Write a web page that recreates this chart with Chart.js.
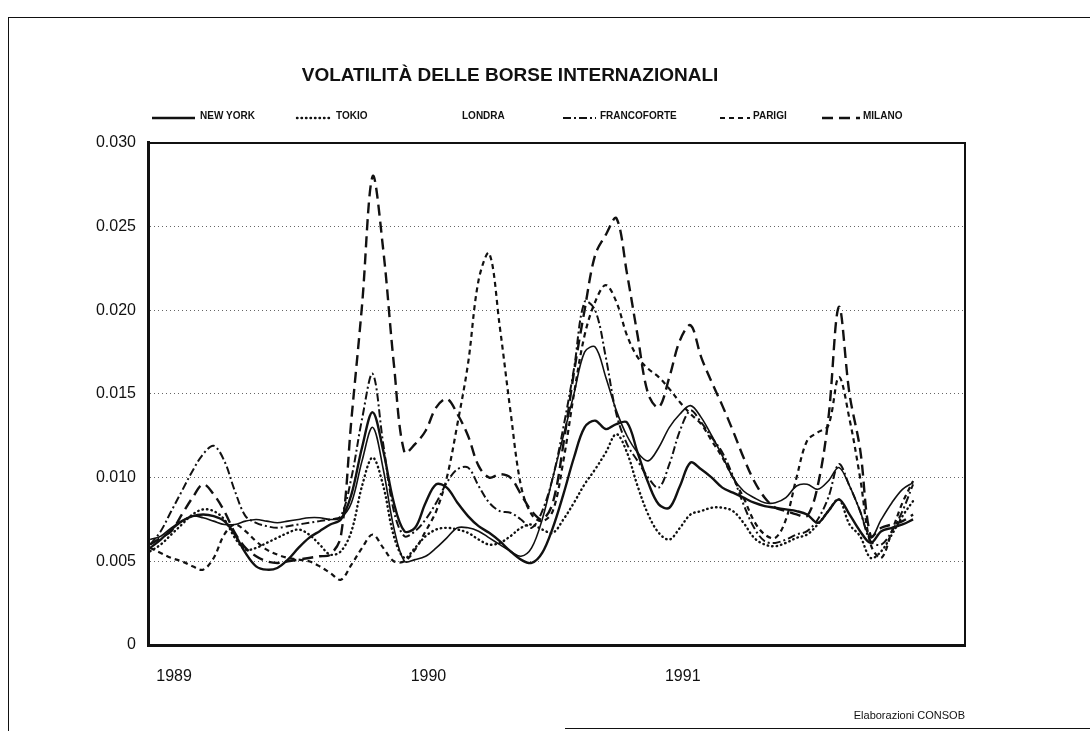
<!DOCTYPE html>
<html lang="it">
<head>
<meta charset="utf-8">
<title>Volatilità delle borse internazionali</title>
<script src="https://cdn.jsdelivr.net/npm/chart.js@4.4.1/dist/chart.umd.min.js"></script>
<style>
  html, body { margin: 0; padding: 0; background: #fff; }
  #wrap { position: relative; width: 1090px; height: 731px; overflow: hidden; }
  #frame { position: absolute; left: 8px; top: 17px; right: -4px; bottom: -4px;
           border-left: 1.5px solid #111; border-top: 1.5px solid #111; }
  #cut { position: absolute; left: 565px; right: 0; top: 728px; border-top: 1.5px solid #111; }
  canvas { position: absolute; left: 0; top: 0; }
</style>
</head>
<body>
<div id="wrap">
  <div id="frame"></div>
  <div id="cut"></div>
  <canvas id="chart" width="1090" height="731"></canvas>
</div>
<script>
// semi-monthly volatility readings, Jan 1989 - Dec 1991
const seriesNames = ['NEW YORK', 'TOKIO', 'LONDRA', 'FRANCOFORTE', 'PARIGI', 'MILANO'];
const yearLabels = ['1989', '1990', '1991'];
const yearStarts = [0, 12, 24]; // months from Jan 1989

const newYork = [
  0.0058, 0.0063, 0.0069, 0.0074, 0.0077, 0.0078, 0.0077, 0.0074, 0.0066, 0.0055,
  0.0047, 0.0045, 0.0046, 0.0051, 0.0058, 0.0064, 0.0068, 0.0072, 0.0075, 0.0090,
  0.0118, 0.0139, 0.0116, 0.0085, 0.0068, 0.0070, 0.0085, 0.0096, 0.0094, 0.0085,
  0.0077, 0.0071, 0.0067, 0.0062, 0.0056, 0.0051, 0.0049, 0.0055, 0.0070, 0.0090,
  0.0112, 0.0130, 0.0134, 0.0129, 0.0132, 0.0133, 0.0115, 0.0097, 0.0084, 0.0082,
  0.0095, 0.0109, 0.0105, 0.0100, 0.0094, 0.0091, 0.0088, 0.0085, 0.0083, 0.0082,
  0.0081, 0.0080, 0.0078, 0.0073, 0.0080, 0.0087, 0.0078, 0.0068, 0.0061, 0.0068,
  0.0070, 0.0072, 0.0075
];
const tokio = [
  0.0056, 0.0060, 0.0066, 0.0072, 0.0078, 0.0081, 0.0080, 0.0075, 0.0064, 0.0057,
  0.0058, 0.0061, 0.0064, 0.0067, 0.0069, 0.0066, 0.0060, 0.0054, 0.0056, 0.0068,
  0.0095, 0.0112, 0.0095, 0.0065, 0.0052, 0.0058, 0.0065, 0.0069, 0.0070, 0.0069,
  0.0067, 0.0063, 0.0060, 0.0061, 0.0065, 0.0070, 0.0072, 0.0069, 0.0067, 0.0075,
  0.0085, 0.0096, 0.0105, 0.0115, 0.0126, 0.0115, 0.0095, 0.0078, 0.0067, 0.0063,
  0.0070, 0.0078, 0.0080, 0.0082, 0.0082, 0.0080, 0.0073, 0.0064, 0.0060, 0.0059,
  0.0061, 0.0064, 0.0066, 0.0072, 0.0080, 0.0087, 0.0072, 0.0065, 0.0052, 0.0056,
  0.0066, 0.0077, 0.0086
];
const londra = [
  0.0063, 0.0065, 0.0070, 0.0074, 0.0077, 0.0076, 0.0074, 0.0072, 0.0072, 0.0074,
  0.0075, 0.0074, 0.0073, 0.0074, 0.0075, 0.0076, 0.0076, 0.0075, 0.0076, 0.0085,
  0.0110, 0.0130, 0.0105, 0.0070, 0.0050, 0.0051, 0.0053, 0.0058, 0.0064, 0.0070,
  0.0070, 0.0068, 0.0064, 0.0060, 0.0056, 0.0053, 0.0058, 0.0075, 0.0100, 0.0125,
  0.0150, 0.0175, 0.0178, 0.0160, 0.0140, 0.0125, 0.0115, 0.0110, 0.0118, 0.0130,
  0.0138, 0.0143, 0.0136, 0.0125, 0.0113, 0.0100, 0.0092, 0.0088, 0.0085, 0.0085,
  0.0088, 0.0095, 0.0096, 0.0093, 0.0098, 0.0106, 0.0095, 0.0080, 0.0064, 0.0075,
  0.0085, 0.0093, 0.0097
];
const francoforte = [
  0.0060, 0.0068, 0.0080, 0.0092, 0.0104, 0.0114, 0.0119, 0.0110, 0.0092, 0.0077,
  0.0073, 0.0071, 0.0070, 0.0071, 0.0072, 0.0073, 0.0074, 0.0075, 0.0077, 0.0100,
  0.0135, 0.0162, 0.0120, 0.0080, 0.0065, 0.0068, 0.0075, 0.0085, 0.0097, 0.0105,
  0.0106, 0.0095, 0.0085, 0.0080, 0.0079, 0.0075, 0.0070, 0.0080, 0.0100, 0.0130,
  0.0165, 0.0205, 0.0200, 0.0172, 0.0138, 0.0120, 0.0110, 0.0100, 0.0094, 0.0108,
  0.0128, 0.0140, 0.0133, 0.0124, 0.0115, 0.0101, 0.0084, 0.0070, 0.0062, 0.0061,
  0.0063, 0.0066, 0.0068, 0.0075, 0.0088, 0.0108, 0.0095, 0.0080, 0.0062, 0.0060,
  0.0068, 0.0080, 0.0096
];
const parigi = [
  0.0058, 0.0055, 0.0052, 0.0050, 0.0047, 0.0045, 0.0052, 0.0066, 0.0072, 0.0068,
  0.0062, 0.0057, 0.0054, 0.0052, 0.0051, 0.0050, 0.0047, 0.0043, 0.0039, 0.0048,
  0.0058, 0.0066, 0.0058, 0.0050, 0.0050, 0.0057, 0.0068, 0.0080, 0.0100, 0.0132,
  0.0168, 0.0218, 0.0234, 0.0190, 0.0140, 0.0095, 0.0078, 0.0074, 0.0080, 0.0110,
  0.0150, 0.0185, 0.0205, 0.0215, 0.0205, 0.0185, 0.0172, 0.0165, 0.0160, 0.0153,
  0.0145, 0.0138, 0.0132, 0.0122, 0.0112, 0.0100, 0.0088, 0.0074, 0.0066, 0.0064,
  0.0075, 0.0100, 0.0122, 0.0127, 0.0131, 0.0160, 0.0135, 0.0100, 0.0060, 0.0052,
  0.0068, 0.0085, 0.0098
];
const milano = [
  0.0060, 0.0064, 0.0068, 0.0078, 0.0088, 0.0096, 0.0090, 0.0080, 0.0067, 0.0058,
  0.0053, 0.0050, 0.0049, 0.0050, 0.0051, 0.0052, 0.0053, 0.0054, 0.0065, 0.0135,
  0.0203, 0.0280, 0.0236, 0.0168, 0.0115, 0.0120, 0.0128, 0.0142, 0.0147, 0.0138,
  0.0125, 0.0107, 0.0100, 0.0102, 0.0100, 0.0090, 0.0080, 0.0075, 0.0085, 0.0120,
  0.0163, 0.0200, 0.0233, 0.0245, 0.0255, 0.0222, 0.0185, 0.0150, 0.0142, 0.0160,
  0.0182, 0.0191, 0.0172, 0.0157, 0.0143, 0.0128, 0.0112, 0.0098, 0.0088, 0.0082,
  0.0080, 0.0078, 0.0077, 0.0095, 0.0135, 0.0202, 0.0150, 0.0117, 0.0065, 0.0070,
  0.0072, 0.0074, 0.0078
];

const seriesValues = [newYork, tokio, londra, francoforte, parigi, milano];
const halfMonths = newYork.map((_, i) => i / 2); // x in months since Jan 1989

// line look of each market, same order as seriesNames
const lineStyles = [
  { width: 2.4, dash: [], cap: 'butt' },
  { width: 2.4, dash: [0.5, 4], cap: 'round' },
  { width: 1.6, dash: [], cap: 'butt' },
  { width: 2, dash: [8, 3, 2, 3], cap: 'butt' },
  { width: 2.2, dash: [5, 4], cap: 'butt' },
  { width: 2.4, dash: [11, 6], cap: 'butt' }
];

// legend key: [line start, line end, text x]; Londra's key did not print
const legendSpots = [
  [152, 195, 200], [297, 330, 336], [null, null, 462],
  [563, 596, 600], [720, 750, 753], [822, 860, 863]
];
const legendY = 116;

const ink = '#111';
const plain = '"Liberation Sans", Arial, sans-serif';

// draws the printed legend row and the source note
const paperLegend = {
  id: 'paperLegend',
  afterDraw(chart) {
    const ctx = chart.ctx;
    ctx.save();
    ctx.fillStyle = ink;
    ctx.strokeStyle = ink;
    ctx.font = 'bold 10px ' + plain;
    ctx.textBaseline = 'middle';
    chart.data.datasets.forEach((ds, i) => {
      const [x0, x1, tx] = legendSpots[i];
      if (x0 !== null) {
        ctx.beginPath();
        ctx.lineWidth = ds.borderWidth;
        ctx.setLineDash(ds.borderDash);
        ctx.lineCap = ds.borderCapStyle;
        ctx.moveTo(x0, legendY + 2);
        ctx.lineTo(x1, legendY + 2);
        ctx.stroke();
      }
      ctx.fillText(ds.label, tx, legendY);
    });
    ctx.setLineDash([]);
    ctx.font = '11px ' + plain;
    ctx.textAlign = 'right';
    ctx.fillText('Elaborazioni CONSOB', chart.chartArea.right, 716);
    ctx.restore();
  }
};

const chart = new Chart(document.getElementById('chart'), {
  type: 'line',
  data: {
    datasets: seriesValues.map((vals, i) => ({
      label: seriesNames[i],
      data: vals.map((v, j) => ({ x: halfMonths[j], y: v })),
      borderColor: ink,
      borderWidth: lineStyles[i].width,
      borderDash: lineStyles[i].dash,
      borderCapStyle: lineStyles[i].cap,
      pointRadius: 0,
      tension: 0.35,
      fill: false
    }))
  },
  options: {
    responsive: false,
    animation: false,
    devicePixelRatio: 1,
    layout: { padding: { left: 0, right: 70, top: 0, bottom: 0 } },
    plugins: {
      legend: { display: false },
      tooltip: { enabled: false },
      title: {
        display: true,
        text: 'VOLATILITÀ DELLE BORSE INTERNAZIONALI',
        color: ink,
        font: { family: plain, size: 19, weight: 'bold' },
        padding: { top: 64, bottom: 56 }
      }
    },
    scales: {
      x: {
        type: 'linear',
        min: -0.1,
        max: 38.45,
        afterFit(s) { s.height = 86; },
        afterBuildTicks(s) { s.ticks = yearStarts.map(v => ({ value: v })); },
        ticks: {
          callback: v => yearLabels[yearStarts.indexOf(v)] || '',
          labelOffset: 24,
          padding: 14,
          maxRotation: 0,
          color: ink,
          font: { family: plain, size: 16 }
        },
        grid: { display: false },
        border: { display: true, width: 3, color: ink }
      },
      xTop: {
        type: 'linear',
        position: 'top',
        afterFit(s) { s.height = 0; },
        ticks: { display: false },
        grid: { display: false },
        border: { display: true, width: 2, color: ink }
      },
      y: {
        min: 0,
        max: 0.03,
        afterFit(s) { s.width = 148; },
        ticks: {
          stepSize: 0.005,
          callback: v => (v === 0 ? '0' : v.toFixed(3)),
          padding: 12,
          color: ink,
          font: { family: plain, size: 16 }
        },
        grid: {
          drawTicks: false,
          lineWidth: 1,
          color: c => (c.tick.value > 0 && c.tick.value < 0.0299 ? '#666' : 'rgba(0,0,0,0)')
        },
        border: { display: true, width: 3, color: ink, dash: [1, 3] }
      },
      yRight: {
        position: 'right',
        afterFit(s) { s.width = 55; },
        ticks: { display: false },
        grid: { display: false },
        border: { display: true, width: 2, color: ink }
      }
    }
  },
  plugins: [paperLegend]
});
</script>
</body>
</html>
